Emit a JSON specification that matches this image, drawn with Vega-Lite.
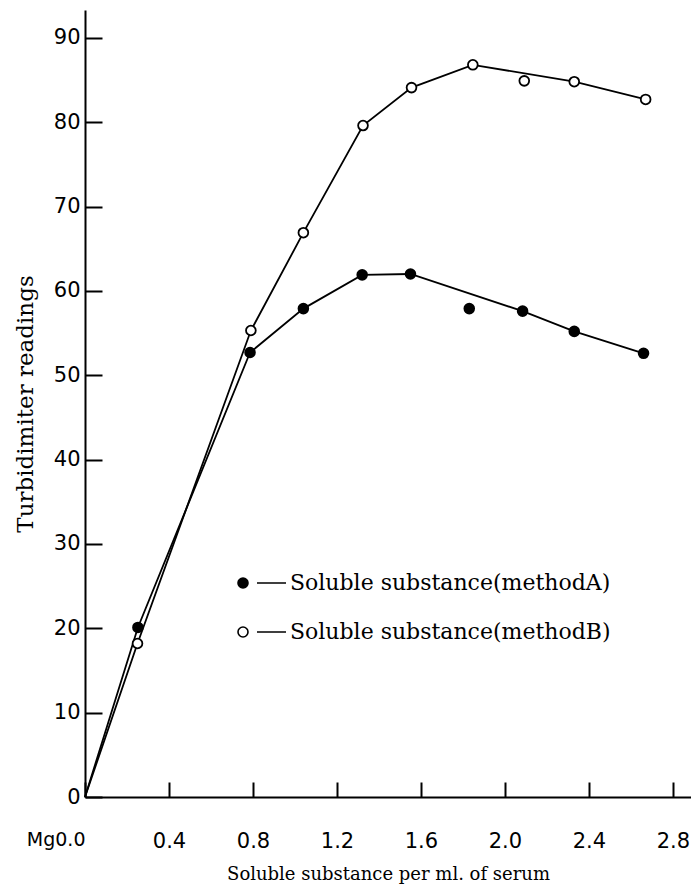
{
  "$schema": "https://vega.github.io/schema/vega-lite/v6.json",
  "width": 606,
  "height": 787,
  "autosize": {"type": "none"},
  "padding": {"left": 85, "top": 10, "right": 0, "bottom": 93},
  "background": "white",
  "config": {"view": {"stroke": null}},
  "datasets": {
    "points": [
      {"method": "Soluble substance(methodA)", "x": 0.252, "y": 20.1},
      {"method": "Soluble substance(methodA)", "x": 0.786, "y": 52.7},
      {"method": "Soluble substance(methodA)", "x": 1.04, "y": 57.9},
      {"method": "Soluble substance(methodA)", "x": 1.32, "y": 61.9},
      {"method": "Soluble substance(methodA)", "x": 1.55, "y": 62.0},
      {"method": "Soluble substance(methodA)", "x": 1.83, "y": 57.9},
      {"method": "Soluble substance(methodA)", "x": 2.084, "y": 57.6},
      {"method": "Soluble substance(methodA)", "x": 2.33, "y": 55.2},
      {"method": "Soluble substance(methodA)", "x": 2.66, "y": 52.6},
      {"method": "Soluble substance(methodB)", "x": 0.25, "y": 18.2},
      {"method": "Soluble substance(methodB)", "x": 0.79, "y": 55.3},
      {"method": "Soluble substance(methodB)", "x": 1.04, "y": 66.9},
      {"method": "Soluble substance(methodB)", "x": 1.324, "y": 79.6},
      {"method": "Soluble substance(methodB)", "x": 1.555, "y": 84.1},
      {"method": "Soluble substance(methodB)", "x": 1.847, "y": 86.8},
      {"method": "Soluble substance(methodB)", "x": 2.092, "y": 84.9},
      {"method": "Soluble substance(methodB)", "x": 2.33, "y": 84.8},
      {"method": "Soluble substance(methodB)", "x": 2.67, "y": 82.7}
    ],
    "curves": [
      {"method": "A", "x": 0, "y": 0},
      {"method": "A", "x": 0.252, "y": 20.1},
      {"method": "A", "x": 0.786, "y": 52.7},
      {"method": "A", "x": 1.04, "y": 57.9},
      {"method": "A", "x": 1.32, "y": 61.9},
      {"method": "A", "x": 1.55, "y": 62.0},
      {"method": "A", "x": 2.084, "y": 57.6},
      {"method": "A", "x": 2.33, "y": 55.2},
      {"method": "A", "x": 2.66, "y": 52.6},
      {"method": "B", "x": 0, "y": 0},
      {"method": "B", "x": 0.25, "y": 18.2},
      {"method": "B", "x": 0.79, "y": 55.3},
      {"method": "B", "x": 1.04, "y": 66.9},
      {"method": "B", "x": 1.324, "y": 79.6},
      {"method": "B", "x": 1.555, "y": 84.1},
      {"method": "B", "x": 1.847, "y": 86.8},
      {"method": "B", "x": 2.33, "y": 84.8},
      {"method": "B", "x": 2.67, "y": 82.7}
    ]
  },
  "layer": [
    {
      "data": {"name": "curves"},
      "mark": {"type": "line", "color": "black", "strokeWidth": 1.8},
      "encoding": {
        "x": {"field": "x", "type": "quantitative", "scale": {"domain": [0, 2.886], "nice": false},
          "axis": {
            "values": [0, 0.4, 0.8, 1.2, 1.6, 2.0, 2.4, 2.8],
            "labelExpr": "datum.value == 0 ? 'Mg0.0' : format(datum.value, '.1f')",
            "labelAlign": {"condition": {"test": "datum.value == 0", "value": "right"}, "value": "center"},
            "labelFontSize": {"condition": {"test": "datum.value == 0", "value": 19}, "value": 21},
            "labelDx": {"condition": {"test": "datum.value == 0", "value": -4}, "value": 0},
            "labelFont": "DejaVu Sans", "labelColor": "black",
            "labelPadding": 48, "labelBaseline": "top",
            "tickSize": -15, "tickWidth": 2, "tickColor": "black",
            "domainColor": "black", "domainWidth": 2,
            "grid": false,
            "title": "Soluble substance per ml. of serum",
            "titleFont": "DejaVu Serif", "titleFontSize": 18, "titleFontWeight": "normal", "titleColor": "black",
            "titlePadding": 14
          }},
        "y": {"field": "y", "type": "quantitative", "scale": {"domain": [0, 93.3], "nice": false},
          "axis": {
            "values": [0, 10, 20, 30, 40, 50, 60, 70, 80, 90],
            "labelFont": "DejaVu Sans", "labelFontSize": 21, "labelColor": "black",
            "labelPadding": 22,
            "tickSize": -17, "tickWidth": 2, "tickColor": "black",
            "domainColor": "black", "domainWidth": 2,
            "grid": false,
            "title": "Turbidimiter readings",
            "titleFont": "DejaVu Serif", "titleFontSize": 23, "titleFontWeight": "normal", "titleColor": "black",
            "titlePadding": 16
          }},
        "detail": {"field": "method"}
      }
    },
    {
      "data": {"name": "points"},
      "mark": {"type": "point", "shape": "circle", "size": 95, "stroke": "black", "strokeWidth": 1.8, "opacity": 1},
      "encoding": {
        "x": {"field": "x", "type": "quantitative"},
        "y": {"field": "y", "type": "quantitative"},
        "fill": {"field": "method", "type": "nominal",
          "scale": {"domain": ["Soluble substance(methodA)", "Soluble substance(methodB)"], "range": ["black", "white"]},
          "legend": {
            "orient": "none", "legendX": 152, "legendY": 548,
            "title": null,
            "symbolType": "M -1 0 A 0.2083 0.2083 0 1 1 -0.5833 0 A 0.2083 0.2083 0 1 1 -1 0 Z M -0.2083 0 L 1 0",
            "symbolSize": 2304,
            "symbolStrokeColor": "black", "symbolStrokeWidth": 1.6,
            "symbolOpacity": 1,
            "labelFont": "DejaVu Serif", "labelFontSize": 22, "labelColor": "black",
            "labelOffset": 3, "labelLimit": 500,
            "rowPadding": 13, "padding": 0
          }}
      }
    }
  ]
}
